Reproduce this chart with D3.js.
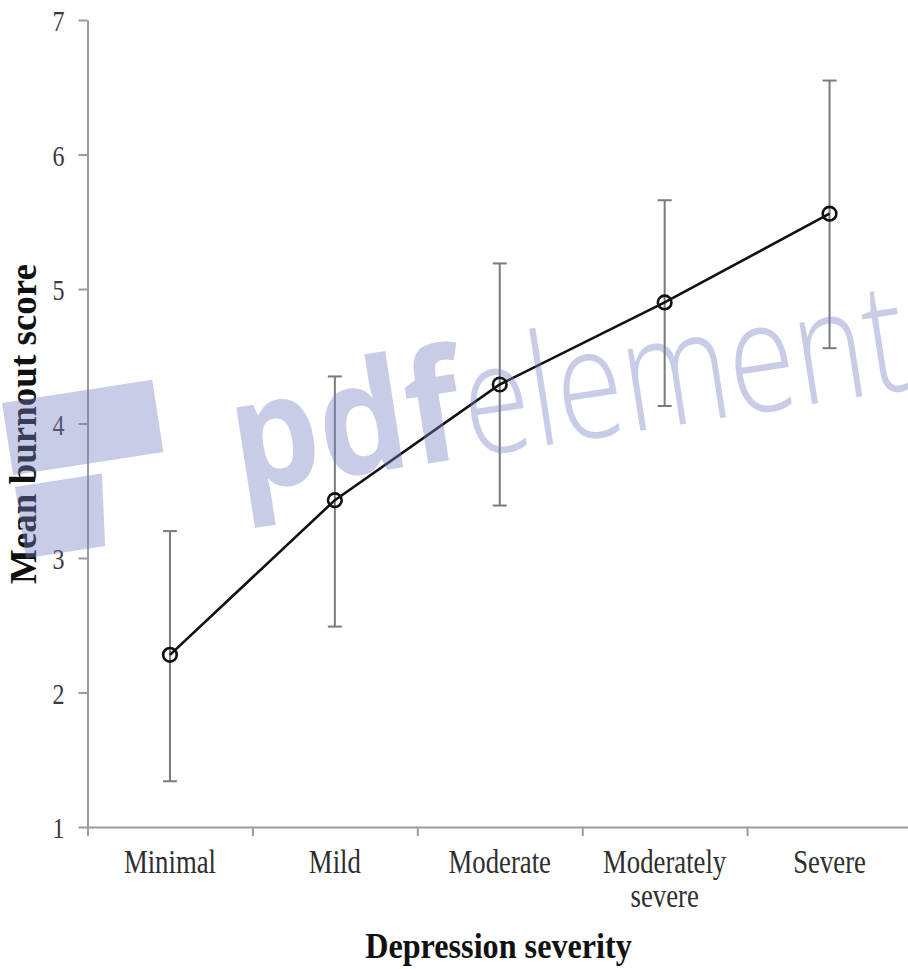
<!DOCTYPE html>
<html>
<head>
<meta charset="utf-8">
<script src="https://cdn.jsdelivr.net/npm/d3@7"></script>
<style>
  html, body { margin: 0; padding: 0; background: #fff; }
  svg { display: block; }
</style>
</head>
<body>
<svg id="chart" width="908" height="969"></svg>
<script>
// ---- data ----
const categories = ["Minimal", "Mild", "Moderate", "Moderately\nsevere", "Severe"];
const means = [2.28, 3.43, 4.29, 4.90, 5.56];
const upper = [3.20, 4.35, 5.19, 5.66, 6.55];
const lower = [1.34, 2.49, 3.39, 4.13, 4.56];
const yTicks = [1, 2, 3, 4, 5, 6, 7];
const xTitle = "Depression severity";
const yTitle = "Mean burnout score";

// ---- layout ----
const svg = d3.select("#chart");
const plotLeft = 87.5, plotRight = 912, plotTop = 20, plotBottom = 827;
const serif = "'Liberation Serif', 'Times New Roman', serif";
const axisColor = "#9a9a9a";

const y = d3.scaleLinear().domain([1, 7]).range([plotBottom, plotTop]);
const x = d3.scaleBand().domain(categories).range([plotLeft, plotRight]).padding(0);
const xBound = d3.scaleLinear().domain([0, categories.length]).range([plotLeft, plotRight]);

// y axis
const yAxis = svg.append("g")
  .attr("transform", `translate(${plotLeft},0)`)
  .call(d3.axisLeft(y).tickValues(yTicks).tickFormat(d3.format("d")).tickSize(9).tickSizeOuter(0).tickPadding(14));
yAxis.select(".domain").attr("stroke", axisColor).attr("stroke-width", 2);
yAxis.selectAll(".tick line").attr("stroke", axisColor).attr("stroke-width", 2);
yAxis.selectAll(".tick text")
  .attr("font-family", serif).attr("font-size", 30).attr("fill", "#3a3a3a")
  .attr("x", -23 / 0.8).attr("dy", "0.36em")
  .attr("transform", "scale(0.8,1)");

// x axis: line + boundary ticks
const xAxisLine = svg.append("g")
  .attr("transform", `translate(0,${plotBottom})`)
  .call(d3.axisBottom(xBound).tickValues(d3.range(0, categories.length + 1)).tickFormat("").tickSize(9).tickSizeOuter(0));
xAxisLine.select(".domain").attr("stroke", axisColor).attr("stroke-width", 2);
xAxisLine.selectAll(".tick line").attr("stroke", axisColor).attr("stroke-width", 2);

// x axis: category labels at band centres
const xLabels = svg.append("g")
  .attr("transform", `translate(0,${plotBottom})`)
  .call(d3.axisBottom(x).tickSize(0).tickPadding(0));
xLabels.select(".domain").remove();
xLabels.selectAll(".tick text")
  .attr("font-family", serif).attr("font-size", 33).attr("fill", "#2e2e2e")
  .attr("transform", "scale(0.81,1)")
  .attr("y", 46).attr("dy", 0)
  .each(function (d) {
    const t = d3.select(this);
    const lines = d.split("\n");
    t.text(null);
    lines.forEach((ln, i) => {
      t.append("tspan").attr("x", 0).attr("dy", i === 0 ? 0 : 34).text(ln);
    });
  });

// error bars
const cx = i => x(categories[i]) + x.bandwidth() / 2;
const eb = svg.append("g").attr("stroke", "#7a7a7a").attr("stroke-width", 2).attr("fill", "none");
means.forEach((m, i) => {
  eb.append("line").attr("x1", cx(i)).attr("x2", cx(i)).attr("y1", y(lower[i])).attr("y2", y(upper[i]));
  eb.append("line").attr("x1", cx(i) - 7).attr("x2", cx(i) + 7).attr("y1", y(lower[i])).attr("y2", y(lower[i]));
  eb.append("line").attr("x1", cx(i) - 7).attr("x2", cx(i) + 7).attr("y1", y(upper[i])).attr("y2", y(upper[i]));
});

// mean line
const line = d3.line().x((d, i) => cx(i)).y(d => y(d));
svg.append("path").datum(means)
  .attr("d", line).attr("fill", "none").attr("stroke", "#111").attr("stroke-width", 2.6);

// markers
svg.append("g").selectAll("circle").data(means).join("circle")
  .attr("cx", (d, i) => cx(i)).attr("cy", d => y(d)).attr("r", 6.8)
  .attr("fill", "none").attr("stroke", "#111").attr("stroke-width", 2.6);

// axis titles
svg.append("text")
  .attr("transform", `translate(498.5,958) scale(0.92,1)`)
  .attr("text-anchor", "middle")
  .attr("font-family", serif).attr("font-weight", "bold").attr("font-size", 35).attr("fill", "#111")
  .text(xTitle);
svg.append("text")
  .attr("transform", `translate(36,424) rotate(-90)`)
  .attr("text-anchor", "middle")
  .attr("font-family", serif).attr("font-weight", "bold").attr("font-size", 37).attr("fill", "#111")
  .text(yTitle);

// watermark overlay seen in the reference
const wm = svg.append("g")
  .attr("transform", "translate(2,403) rotate(-8.8)")
  .attr("fill", "rgba(118,128,192,0.4)");
wm.append("rect").attr("x", 0).attr("y", 0).attr("width", 152).attr("height", 73);
wm.append("path").attr("d", "M0,85 L88,85 L80,157 L0,157 Z");
const wt = wm.append("text").attr("y", 125).attr("font-family", "'Open Sans', Lato, sans-serif").attr("font-size", 155);
wt.append("tspan").attr("x", 220).attr("font-weight", 700)
  .attr("textLength", 232).attr("lengthAdjust", "spacingAndGlyphs").text("pdf");
wt.append("tspan").attr("x", 455).attr("font-weight", 300)
  .attr("textLength", 447).attr("lengthAdjust", "spacingAndGlyphs").text("element");
</script>
</body>
</html>
